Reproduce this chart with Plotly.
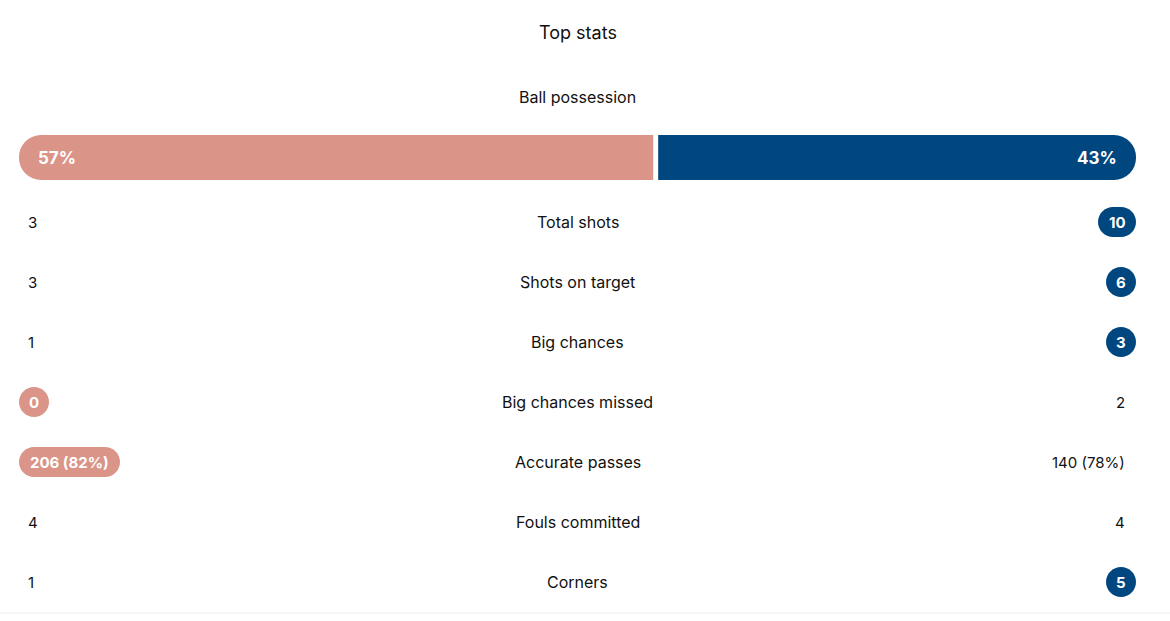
import plotly.graph_objects as go

# match stats
title = "Top stats"
possession_label = "Ball possession"
possession = [57, 43]

stat_names = ["Total shots", "Shots on target", "Big chances", "Big chances missed",
              "Accurate passes", "Fouls committed", "Corners"]
home_vals = ["3", "3", "1", "0", "206 (82%)", "4", "1"]
away_vals = ["10", "6", "3", "2", "140 (78%)", "4", "5"]
# which side gets the coloured pill
highlight = ["away", "away", "away", "home", "home", None, "away"]

HOME = "#DA9488"
AWAY = "#00467F"
FONT = "Inter"
W, H = 1170, 621
CX = 577.5 / W  # centre column for the labels

# row layout in pixels -> y axis units (one row = 60px)
ROW0, ROW_H = 222, 60
def ypos(px):
    return (px - ROW0) / ROW_H

bar_y = ypos(157.5)
x_left, x_right = 19, 1136

fig = go.Figure()

fig.add_trace(go.Bar(x=[-possession[0]], y=[bar_y], orientation="h", width=45 / ROW_H,
                     marker=dict(color=HOME, cornerradius=23, line_width=0),
                     hoverinfo="skip"))
fig.add_trace(go.Bar(x=[possession[1]], y=[bar_y], orientation="h", width=45 / ROW_H,
                     marker=dict(color=AWAY, cornerradius=23, line_width=0),
                     hoverinfo="skip"))

annotations = [
    dict(text=title, x=CX, y=ypos(32), xref="paper", yref="y",
         showarrow=False, font=dict(size=18, color="#111")),
    dict(text=possession_label, x=CX, y=ypos(97), xref="paper", yref="y",
         showarrow=False, font=dict(size=16, color="#111")),
    dict(text="<b>%d%%</b>" % possession[0], x=36 / W, y=bar_y, xref="paper", yref="y",
         xanchor="left", showarrow=False, font=dict(size=17, color="white")),
    dict(text="<b>%d%%</b>" % possession[1], x=1119 / W, y=bar_y, xref="paper", yref="y",
         xanchor="right", showarrow=False, font=dict(size=17, color="white")),
]


def pill_path(w, side):
    r = 15
    k = r * 0.5523
    if side == "home":
        a, b = 0, w
    else:
        a, b = -w, 0
    # rounded rectangle from a to b, height 30
    return (f"M{a + r},{-r} L{b - r},{-r} "
            f"C{b - r + k},{-r} {b},{-k} {b},0 "
            f"C{b},{k} {b - r + k},{r} {b - r},{r} "
            f"L{a + r},{r} "
            f"C{a + r - k},{r} {a},{k} {a},0 "
            f"C{a},{-k} {a + r - k},{-r} {a + r},{-r} Z")


shapes = []
for i, name in enumerate(stat_names):
    annotations.append(dict(text=name, x=CX, y=i, xref="paper", yref="y",
                            showarrow=False, font=dict(size=16, color="#111")))
    for side, val in (("home", home_vals[i]), ("away", away_vals[i])):
        if highlight[i] == side:
            w = max(30, 9 * len(val) + 20)
            anchor = x_left if side == "home" else x_right
            col = HOME if side == "home" else AWAY
            shapes.append(dict(type="path", xref="paper", yref="y",
                               xsizemode="pixel", ysizemode="pixel",
                               xanchor=anchor / W, yanchor=i,
                               path=pill_path(w, side), fillcolor=col, line_width=0,
                               layer="below"))
            annotations.append(dict(text="<b>%s</b>" % val, x=anchor / W, y=i,
                                    xref="paper", yref="y", xanchor="center",
                                    xshift=w / 2 if side == "home" else -w / 2,
                                    showarrow=False, font=dict(size=15, color="white")))
        else:
            if side == "home":
                annotations.append(dict(text=val, x=26 / W, y=i, xref="paper", yref="y",
                                        xanchor="left", showarrow=False,
                                        font=dict(size=15, color="#111")))
            else:
                annotations.append(dict(text=val, x=1127 / W, y=i, xref="paper", yref="y",
                                        xanchor="right", showarrow=False,
                                        font=dict(size=15, color="#111")))

# thin gap between the two possession bars
shapes.append(dict(type="line", xref="x", yref="y", x0=0, x1=0,
                   y0=bar_y - 0.4, y1=bar_y + 0.4, line=dict(color="white", width=5)))
# bottom divider
shapes.append(dict(type="line", xref="paper", yref="paper", x0=0, x1=1,
                   y0=(H - 613) / H, y1=(H - 613) / H, line=dict(color="#EDEDED", width=1)))

fig.update_layout(
    width=W, height=H,
    margin=dict(l=0, r=0, t=0, b=0),
    paper_bgcolor="white", plot_bgcolor="white",
    barmode="relative", showlegend=False,
    font=dict(family=FONT, color="#111"),
    xaxis=dict(domain=[x_left / W, x_right / W], range=[-possession[0], possession[1]],
               visible=False, fixedrange=True),
    yaxis=dict(range=[ypos(H), ypos(0)], visible=False, fixedrange=True),
    annotations=annotations,
    shapes=shapes,
)

# drop the browser's default body margin so the figure sits at 0,0
fig.write_html("out.html", config={"displayModeBar": False},
               post_script="document.body.style.margin='0';")
